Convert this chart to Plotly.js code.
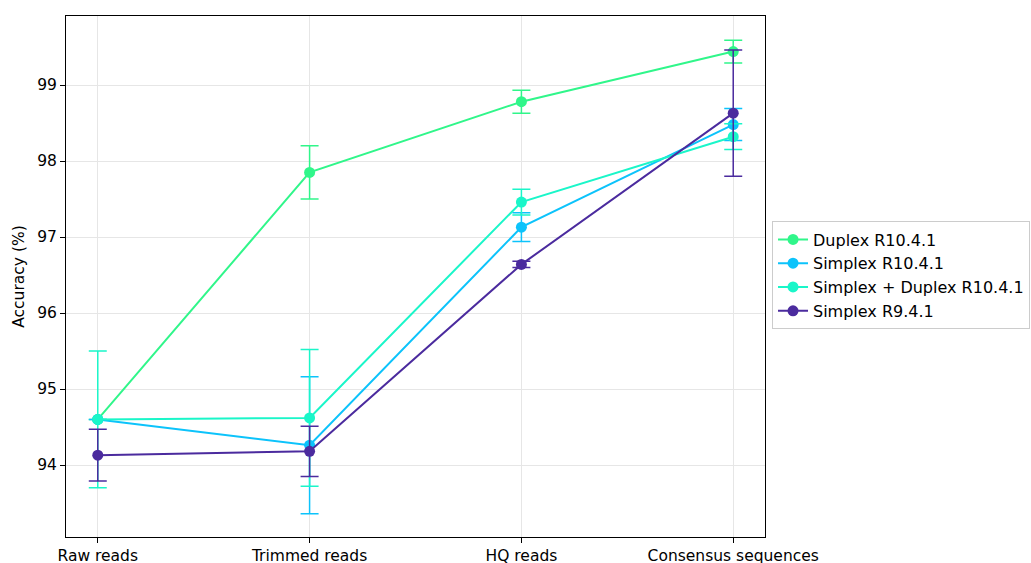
<!DOCTYPE html>
<html>
<head>
<meta charset="utf-8">
<script src="https://cdn.plot.ly/plotly-3.0.1.min.js"></script>
<style>html,body{margin:0;padding:0;background:#fff;}#chart{width:1031px;height:563px;}</style>
</head>
<body>
<div id="chart"></div>
<script>
const categories = ["Raw reads", "Trimmed reads", "HQ reads", "Consensus sequences"];

const duplexR1041 = [94.60, 97.85, 98.78, 99.44];
const duplexR1041Err = [0.0, 0.35, 0.15, 0.15];

const simplexR1041 = [94.60, 94.26, 97.13, 98.48];
const simplexR1041Err = [0.0, 0.90, 0.19, 0.21];

const simplexDuplexR1041 = [94.60, 94.62, 97.46, 98.32];
const simplexDuplexR1041Err = [0.90, 0.90, 0.17, 0.17];

const simplexR941 = [94.13, 94.18, 96.64, 98.63];
const simplexR941Err = [0.34, 0.33, 0.04, 0.83];

const seriesNames = ["Duplex R10.4.1", "Simplex R10.4.1", "Simplex + Duplex R10.4.1", "Simplex R9.4.1"];
const seriesColors = ["#30f68a", "#0cc3fb", "#1af6c9", "#4b2b9e"];
const seriesValues = [duplexR1041, simplexR1041, simplexDuplexR1041, simplexR941];
const seriesErrors = [duplexR1041Err, simplexR1041Err, simplexDuplexR1041Err, simplexR941Err];

const xIdx = categories.map((c, i) => i);

const traces = seriesNames.map((name, k) => ({
  type: "scatter",
  mode: "lines+markers",
  name: name,
  x: xIdx,
  y: seriesValues[k],
  line: {color: seriesColors[k], width: 2},
  marker: {color: seriesColors[k], size: 11},
  error_y: {type: "data", array: seriesErrors[k], visible: true, color: seriesColors[k], thickness: 1.5, width: 9}
}));

const layout = {
  width: 1031,
  height: 563,
  margin: {l: 66, r: 266, t: 16, b: 26},
  paper_bgcolor: "#ffffff",
  plot_bgcolor: "#ffffff",
  font: {family: "DejaVu Sans, sans-serif", size: 15, color: "#000"},
  showlegend: true,
  xaxis: {
    range: [-0.15, 3.15],
    tickmode: "array",
    tickvals: xIdx,
    ticktext: categories,
    showgrid: true,
    gridcolor: "#e6e6e6",
    gridwidth: 1,
    zeroline: false,
    showline: true,
    linecolor: "#000",
    linewidth: 1,
    mirror: true,
    ticks: "outside",
    ticklen: 5,
    tickcolor: "#000",
    ticklabelstandoff: -1,
    tickfont: {size: 15.5}
  },
  yaxis: {
    range: [93.053, 99.908],
    tickmode: "array",
    tickvals: [94, 95, 96, 97, 98, 99],
    showgrid: true,
    gridcolor: "#e6e6e6",
    gridwidth: 1,
    zeroline: false,
    showline: true,
    linecolor: "#000",
    linewidth: 1,
    mirror: true,
    ticks: "outside",
    ticklen: 5,
    tickcolor: "#000",
    tickfont: {size: 15.5},
    title: {text: "Accuracy (%)", font: {size: 15.5}, standoff: 8}
  },
  legend: {
    xref: "container",
    yref: "container",
    x: 0.7488,
    xanchor: "left",
    y: 0.5107,
    yanchor: "middle",
    bordercolor: "#cccccc",
    borderwidth: 1,
    bgcolor: "#ffffff",
    font: {size: 16},
    itemwidth: 30,
    tracegroupgap: 0
  }
};

Plotly.newPlot("chart", traces, layout, {displayModeBar: false, staticPlot: true});
</script>
</body>
</html>
